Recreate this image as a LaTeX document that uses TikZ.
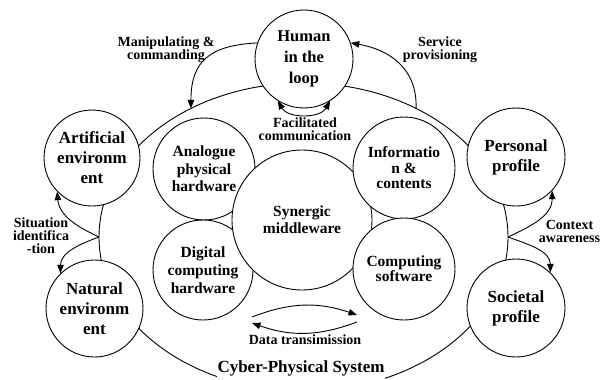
\documentclass[tikz,border=0pt]{standalone}
\usepackage{fontspec}
\setmainfont{Liberation Serif}
\usetikzlibrary{arrows.meta,calc}
\begin{document}
\begin{tikzpicture}[x=1pt,y=1pt,line width=0.9pt,
  bigc/.style={circle,draw,fill=white,inner sep=0pt,align=center,
    font=\bfseries\fontsize{17}{20}\selectfont},
  partc/.style={circle,draw,fill=white,inner sep=0pt,align=center,
    font=\bfseries\fontsize{15.5}{#1}\selectfont},
  lbl/.style={align=center,inner sep=0pt,
    font=\bfseries\fontsize{14}{13}\selectfont},
  tip/.tip={Triangle[length=8.5pt,width=6.5pt]},
  link/.style={-tip}]

\useasboundingbox (0,0) rectangle (606,-380);
\clip (0,0) rectangle (606,-380);

% system boundary
\coordinate (ctr) at (303.5,-237);
\draw (ctr) ellipse [x radius=204.5, y radius=154];
\coordinate (m1) at ($(ctr)+(123.4:204.5 and 154)$);
\coordinate (s1) at ($(ctr)+(56.6:204.5 and 154)$);
\coordinate (sL) at ($(ctr)+(180:204.5 and 154)$);
\coordinate (sR) at ($(ctr)+(0:204.5 and 154)$);

% outer actors
\node[bigc,minimum size=98pt,font=\bfseries\fontsize{16.5}{21}\selectfont] (hum) at (304,-59) {Human\\in the\\loop};
\node[bigc,minimum size=96pt] (art) at (92,-158) {Artificial\\environm\\ent};
\node[bigc,minimum size=97pt] (nat) at (94.5,-308.5) {Natural\\environm\\ent};
\node[bigc,minimum size=98pt] (per) at (516,-157) {Personal\\profile};
\node[bigc,minimum size=98pt] (soc) at (516,-308) {Societal\\profile};

% system parts
\node[partc=17.5,minimum size=102pt] (ana) at (204,-169) {Analogue\\physical\\hardware};
\node[partc=18,minimum size=100pt] (dig) at (203,-270) {Digital\\computing\\hardware};
\node[partc=17,minimum size=140pt] (syn) at (302,-220) {Synergic\\middleware};
\node[partc=15.5,minimum size=102pt] (inf) at (404,-168) {Informatio\\n \&\\contents};
\node[partc=14,minimum size=102pt] (com) at (404,-269) {Computing\\software};

% labels
\node[lbl] (manlbl) at (166,-49.5) {Manipulating \&\\commanding};
\node[lbl] (srvlbl) at (440,-49.5) {Service\\provisioning};
\node[lbl] (faclbl) at (305,-129.5) {Facilitated\\communication};
\node[lbl] (sitlbl) at (41,-236) {Situation\\identifica\\-tion};
\node[lbl] (ctxlbl) at (569.5,-231.5) {Context\\awareness};
\node[lbl] (datlbl) at (305,-340) {Data transimission};
\node[fill=white,inner xsep=1pt,inner ysep=6pt,
  font=\bfseries\fontsize{17}{20}\selectfont] (cps) at (301,-368) {Cyber-Physical System};

% interactions
\draw[link] (hum.161) to[out=183,in=90,looseness=1.3] (m1);
\draw[link] (s1) to[out=88,in=-10,looseness=1.1] (hum.19);
\draw[tip-tip] (hum.238) to[out=-60,in=-120] (hum.302);
\draw[link] (sL) to[out=155,in=-85] (art.224);
\draw[link] (sL) to[out=200,in=90] (nat.134);
\draw[link] (sR) to[out=25,in=-90] (per.-43);
\draw[link] (sR) to[out=-20,in=90] (soc.46);

\coordinate (d1) at (252,-317);
\coordinate (d2) at (357,-315);
\coordinate (d3) at (357,-322);
\coordinate (d4) at (252,-323);
\draw[link] (d1) to[bend left=20] (d2);
\draw[link] (d3) to[bend left=20] (d4);
\end{tikzpicture}
\end{document}
